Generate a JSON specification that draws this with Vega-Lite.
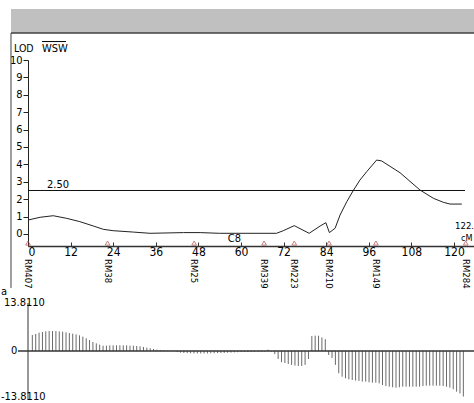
{
  "$schema": "https://vega.github.io/schema/vega-lite/v6.json",
  "width": 446,
  "height": 246,
  "autosize": {"type": "none"},
  "padding": {"left": 28, "top": 0, "right": 0, "bottom": 157},
  "background": "white",
  "config": {
    "view": {"stroke": null},
    "font": "Liberation Sans Narrow, DejaVu Sans Condensed, Liberation Sans, sans-serif",
    "text": {"font": "Liberation Sans Narrow, DejaVu Sans Condensed, Liberation Sans, sans-serif", "color": "#000000"}
  },
  "resolve": {"scale": {"y": "independent"}, "axis": {"y": "independent", "x": "independent"}},
  "layer": [
    {
      "data": {"values": [{}]},
      "mark": {"type": "rect", "color": "#c0c0c0"},
      "encoding": {
        "x": {"datum": -4.79, "type": "quantitative", "scale": {"domain": [0, 125.63], "nice": false, "zero": false}, "axis": null},
        "x2": {"datum": 125.63},
        "y": {"datum": 12.93, "type": "quantitative", "scale": {"domain": [-0.69, 10], "range": [246, 60], "nice": false, "zero": false}, "axis": null},
        "y2": {"datum": 11.55}
      }
    },
    {
      "data": {"values": [{}]},
      "mark": {"type": "rule", "color": "#404040", "strokeWidth": 1.5},
      "encoding": {
        "x": {"datum": -4.79, "type": "quantitative", "scale": {"domain": [0, 125.63], "nice": false, "zero": false}, "axis": null},
        "x2": {"datum": 125.63},
        "y": {"datum": 11.55, "type": "quantitative", "scale": {"domain": [-0.69, 10], "range": [246, 60], "nice": false, "zero": false}, "axis": null}
      }
    },
    {
      "data": {"values": [{}]},
      "mark": {"type": "rule", "color": "#404040", "strokeWidth": 1},
      "encoding": {
        "x": {"datum": -4.79, "type": "quantitative", "scale": {"domain": [0, 125.63], "nice": false, "zero": false}, "axis": null},
        "y": {"datum": 11.55, "type": "quantitative", "scale": {"domain": [-0.69, 10], "range": [246, 60], "nice": false, "zero": false}, "axis": null},
        "y2": {"datum": -3.1}
      }
    },
    {
      "data": {"values": [{}]},
      "mark": {"type": "rule", "color": "#111111", "strokeWidth": 1},
      "encoding": {
        "x": {"datum": 0, "type": "quantitative", "scale": {"domain": [0, 125.63], "nice": false, "zero": false}, "axis": null},
        "x2": {"datum": 123.1},
        "y": {"datum": 2.5, "type": "quantitative", "scale": {"domain": [-0.69, 10], "range": [246, 60], "nice": false, "zero": false}, "axis": null}
      }
    },
    {
      "data": {"values": [
        {"x": 0, "y": 0.8}, {"x": 3.4, "y": 0.96}, {"x": 7.1, "y": 1.05}, {"x": 10.9, "y": 0.9},
        {"x": 14.6, "y": 0.71}, {"x": 18.4, "y": 0.46}, {"x": 21.2, "y": 0.27}, {"x": 24, "y": 0.19},
        {"x": 29.7, "y": 0.11}, {"x": 34.4, "y": 0.04}, {"x": 43.8, "y": 0.08}, {"x": 48.5, "y": 0.08},
        {"x": 54, "y": 0.04}, {"x": 70, "y": 0.04}, {"x": 71.9, "y": 0.19}, {"x": 75, "y": 0.48},
        {"x": 79.2, "y": 0.04}, {"x": 82.3, "y": 0.46}, {"x": 83.9, "y": 0.65}, {"x": 84.9, "y": 0.08},
        {"x": 86.5, "y": 0.33}, {"x": 87.9, "y": 1.09}, {"x": 89.8, "y": 1.86}, {"x": 91.6, "y": 2.49},
        {"x": 93.5, "y": 3.1}, {"x": 95.4, "y": 3.58}, {"x": 98.2, "y": 4.25}, {"x": 99.6, "y": 4.2},
        {"x": 104.8, "y": 3.52}, {"x": 110.4, "y": 2.53}, {"x": 114.2, "y": 2.05}, {"x": 117, "y": 1.82},
        {"x": 118.9, "y": 1.72}, {"x": 122.2, "y": 1.72}
      ]},
      "mark": {"type": "line", "color": "#222222", "strokeWidth": 1},
      "encoding": {
        "x": {
          "field": "x", "type": "quantitative",
          "scale": {"domain": [0, 125.63], "nice": false, "zero": false},
          "axis": {
            "title": null, "grid": false,
            "values": [0, 12, 24, 36, 48, 60, 72, 84, 96, 108, 120],
            "labelFont": "Liberation Sans Narrow, DejaVu Sans Condensed, Liberation Sans, sans-serif",
            "labelFontSize": 12, "labelColor": "#000000",
            "domainColor": "#333333", "domainWidth": 1.5,
            "tickColor": "#333333", "tickSize": -4, "labelPadding": 4
          }
        },
        "y": {
          "field": "y", "type": "quantitative",
          "scale": {"domain": [-0.69, 10], "range": [246, 60], "nice": false, "zero": false},
          "axis": {
            "title": null, "grid": false,
            "values": [0, 1, 2, 3, 4, 5, 6, 7, 8, 9, 10],
            "labelFont": "Liberation Sans Narrow, DejaVu Sans Condensed, Liberation Sans, sans-serif",
            "labelFontSize": 11, "labelColor": "#000000",
            "domainColor": "#222222", "tickColor": "#222222", "tickSize": 5, "labelPadding": 1
          }
        }
      }
    },
    {
      "data": {"values": [
        {"x": 0, "name": "RM407"}, {"x": 22.4, "name": "RM38"}, {"x": 46.8, "name": "RM25"},
        {"x": 66.5, "name": "RM339"}, {"x": 75, "name": "RM223"}, {"x": 84.8, "name": "RM210"},
        {"x": 98, "name": "RM149"}, {"x": 123.3, "name": "RM284"}
      ]},
      "mark": {"type": "point", "shape": "triangle-up", "filled": false, "stroke": "#b04848", "size": 22, "strokeWidth": 1},
      "encoding": {
        "x": {"field": "x", "type": "quantitative", "scale": {"domain": [0, 125.63], "nice": false, "zero": false}, "axis": null},
        "y": {"datum": -0.52, "type": "quantitative", "scale": {"domain": [-0.69, 10], "range": [246, 60], "nice": false, "zero": false}, "axis": null}
      }
    },
    {
      "data": {"values": [
        {"x": 0, "name": "RM407"}, {"x": 22.4, "name": "RM38"}, {"x": 46.8, "name": "RM25"},
        {"x": 66.5, "name": "RM339"}, {"x": 75, "name": "RM223"}, {"x": 84.8, "name": "RM210"},
        {"x": 98, "name": "RM149"}, {"x": 123.3, "name": "RM284"}
      ]},
      "mark": {"type": "text", "angle": 90, "align": "left", "baseline": "middle", "fontSize": 9.5},
      "encoding": {
        "x": {"field": "x", "type": "quantitative", "scale": {"domain": [0, 125.63], "nice": false, "zero": false}, "axis": null},
        "y": {"datum": -1.44, "type": "quantitative", "scale": {"domain": [-0.69, 10], "range": [246, 60], "nice": false, "zero": false}, "axis": null},
        "text": {"field": "name"}
      }
    },
    {
      "data": {"values": [{"t": "2.50"}]},
      "mark": {"type": "text", "align": "left", "baseline": "alphabetic", "fontSize": 11},
      "encoding": {
        "x": {"datum": 5.35, "type": "quantitative", "scale": {"domain": [0, 125.63], "nice": false, "zero": false}, "axis": null},
        "y": {"datum": 2.64, "type": "quantitative", "scale": {"domain": [-0.69, 10], "range": [246, 60], "nice": false, "zero": false}, "axis": null},
        "text": {"field": "t"}
      }
    },
    {
      "data": {"values": [{"t": "LOD"}]},
      "mark": {"type": "text", "align": "left", "baseline": "alphabetic", "fontSize": 10.5},
      "encoding": {
        "x": {"datum": -3.94, "type": "quantitative", "scale": {"domain": [0, 125.63], "nice": false, "zero": false}, "axis": null},
        "y": {"datum": 10.46, "type": "quantitative", "scale": {"domain": [-0.69, 10], "range": [246, 60], "nice": false, "zero": false}, "axis": null},
        "text": {"field": "t"}
      }
    },
    {
      "data": {"values": [{"t": "WSW"}]},
      "mark": {"type": "text", "align": "left", "baseline": "alphabetic", "fontSize": 11},
      "encoding": {
        "x": {"datum": 3.94, "type": "quantitative", "scale": {"domain": [0, 125.63], "nice": false, "zero": false}, "axis": null},
        "y": {"datum": 10.46, "type": "quantitative", "scale": {"domain": [-0.69, 10], "range": [246, 60], "nice": false, "zero": false}, "axis": null},
        "text": {"field": "t"}
      }
    },
    {
      "data": {"values": [{}]},
      "mark": {"type": "rule", "color": "#000000", "strokeWidth": 1},
      "encoding": {
        "x": {"datum": 3.94, "type": "quantitative", "scale": {"domain": [0, 125.63], "nice": false, "zero": false}, "axis": null},
        "x2": {"datum": 10.7},
        "y": {"datum": 11.06, "type": "quantitative", "scale": {"domain": [-0.69, 10], "range": [246, 60], "nice": false, "zero": false}, "axis": null}
      }
    },
    {
      "data": {"values": [{"t": "C8"}]},
      "mark": {"type": "text", "align": "left", "baseline": "alphabetic", "fontSize": 11},
      "encoding": {
        "x": {"datum": 56.3, "type": "quantitative", "scale": {"domain": [0, 125.63], "nice": false, "zero": false}, "axis": null},
        "y": {"datum": -0.46, "type": "quantitative", "scale": {"domain": [-0.69, 10], "range": [246, 60], "nice": false, "zero": false}, "axis": null},
        "text": {"field": "t"}
      }
    },
    {
      "data": {"values": [{"t": "122."}]},
      "mark": {"type": "text", "align": "left", "baseline": "alphabetic", "fontSize": 9.5},
      "encoding": {
        "x": {"datum": 120.28, "type": "quantitative", "scale": {"domain": [0, 125.63], "nice": false, "zero": false}, "axis": null},
        "y": {"datum": 0.29, "type": "quantitative", "scale": {"domain": [-0.69, 10], "range": [246, 60], "nice": false, "zero": false}, "axis": null},
        "text": {"field": "t"}
      }
    },
    {
      "data": {"values": [{"t": "cM"}]},
      "mark": {"type": "text", "align": "left", "baseline": "alphabetic", "fontSize": 9},
      "encoding": {
        "x": {"datum": 121.97, "type": "quantitative", "scale": {"domain": [0, 125.63], "nice": false, "zero": false}, "axis": null},
        "y": {"datum": -0.4, "type": "quantitative", "scale": {"domain": [-0.69, 10], "range": [246, 60], "nice": false, "zero": false}, "axis": null},
        "text": {"field": "t"}
      }
    },
    {
      "data": {"values": [
        {"x": 1.22, "y": 4.6}, {"x": 2.17, "y": 4.9}, {"x": 3.12, "y": 5.27}, {"x": 4.07, "y": 5.47},
        {"x": 5.01, "y": 5.66}, {"x": 5.96, "y": 5.75}, {"x": 6.91, "y": 5.75}, {"x": 7.86, "y": 5.75},
        {"x": 8.81, "y": 5.66}, {"x": 9.76, "y": 5.56}, {"x": 10.71, "y": 5.37}, {"x": 11.65, "y": 5.18},
        {"x": 12.6, "y": 4.99}, {"x": 13.55, "y": 4.79}, {"x": 14.5, "y": 4.51}, {"x": 15.45, "y": 4.12},
        {"x": 16.4, "y": 3.64}, {"x": 17.34, "y": 3.16}, {"x": 18.29, "y": 2.59}, {"x": 19.24, "y": 2.2},
        {"x": 20.19, "y": 1.82}, {"x": 21.14, "y": 1.53}, {"x": 22.09, "y": 1.53}, {"x": 23.04, "y": 1.63},
        {"x": 23.98, "y": 1.63}, {"x": 24.93, "y": 1.63}, {"x": 25.88, "y": 1.63}, {"x": 26.83, "y": 1.63},
        {"x": 27.78, "y": 1.63}, {"x": 28.73, "y": 1.53}, {"x": 29.68, "y": 1.53}, {"x": 30.62, "y": 1.44},
        {"x": 31.57, "y": 1.34}, {"x": 32.52, "y": 1.15}, {"x": 33.47, "y": 0.96}, {"x": 34.42, "y": 0.77},
        {"x": 35.37, "y": 0.58}, {"x": 36.31, "y": 0.38}, {"x": 37.26, "y": 0.29}, {"x": 38.21, "y": 0.19},
        {"x": 39.16, "y": 0.1}, {"x": 40.11, "y": 0.05}, {"x": 41.06, "y": -0.1}, {"x": 42.01, "y": -0.3},
        {"x": 42.95, "y": -0.45}, {"x": 43.9, "y": -0.55}, {"x": 44.85, "y": -0.6}, {"x": 45.8, "y": -0.65},
        {"x": 46.75, "y": -0.7}, {"x": 47.7, "y": -0.7}, {"x": 48.65, "y": -0.7}, {"x": 49.59, "y": -0.7},
        {"x": 50.54, "y": -0.7}, {"x": 51.49, "y": -0.65}, {"x": 52.44, "y": -0.65}, {"x": 53.39, "y": -0.6},
        {"x": 54.34, "y": -0.6}, {"x": 55.28, "y": -0.55}, {"x": 56.23, "y": -0.5}, {"x": 57.18, "y": -0.45},
        {"x": 58.13, "y": -0.4}, {"x": 59.08, "y": -0.35}, {"x": 60.03, "y": -0.3}, {"x": 60.98, "y": -0.3},
        {"x": 61.92, "y": -0.3}, {"x": 62.87, "y": -0.25}, {"x": 63.82, "y": -0.25}, {"x": 64.77, "y": -0.2},
        {"x": 65.72, "y": -0.2}, {"x": 66.67, "y": -0.15}, {"x": 67.62, "y": 0.4}, {"x": 68.56, "y": -0.15},
        {"x": 69.51, "y": -0.9}, {"x": 70.46, "y": -2.3}, {"x": 71.41, "y": -3.2}, {"x": 72.36, "y": -3.45},
        {"x": 73.31, "y": -3.75}, {"x": 74.25, "y": -4.0}, {"x": 75.2, "y": -4.2}, {"x": 76.15, "y": -4.3},
        {"x": 77.1, "y": -4.3}, {"x": 78.05, "y": -4.0}, {"x": 79.0, "y": -2.3}, {"x": 79.95, "y": 4.3},
        {"x": 80.89, "y": 4.4}, {"x": 81.84, "y": 4.4}, {"x": 82.79, "y": 3.9}, {"x": 83.74, "y": 3.4},
        {"x": 84.69, "y": -1.15}, {"x": 85.64, "y": -2.0}, {"x": 86.59, "y": -4.0}, {"x": 87.53, "y": -6.4},
        {"x": 88.48, "y": -7.4}, {"x": 89.43, "y": -7.85}, {"x": 90.38, "y": -8.15}, {"x": 91.33, "y": -8.35},
        {"x": 92.28, "y": -8.5}, {"x": 93.22, "y": -8.6}, {"x": 94.17, "y": -8.8}, {"x": 95.12, "y": -8.8},
        {"x": 96.07, "y": -9.0}, {"x": 97.02, "y": -9.1}, {"x": 97.97, "y": -9.1}, {"x": 98.92, "y": -9.3},
        {"x": 99.86, "y": -9.8}, {"x": 100.81, "y": -10.07}, {"x": 101.76, "y": -10.26}, {"x": 102.71, "y": -10.45},
        {"x": 103.66, "y": -10.55}, {"x": 104.61, "y": -10.45}, {"x": 105.56, "y": -10.26}, {"x": 106.5, "y": -10.26},
        {"x": 107.45, "y": -10.26}, {"x": 108.4, "y": -10.26}, {"x": 109.35, "y": -10.26}, {"x": 110.3, "y": -10.26},
        {"x": 111.25, "y": -10.07}, {"x": 112.19, "y": -9.97}, {"x": 113.14, "y": -9.97}, {"x": 114.09, "y": -9.97},
        {"x": 115.04, "y": -9.97}, {"x": 115.99, "y": -9.97}, {"x": 116.94, "y": -10.07}, {"x": 117.89, "y": -10.26},
        {"x": 118.83, "y": -10.55}, {"x": 119.78, "y": -11.0}, {"x": 120.73, "y": -11.7}, {"x": 121.68, "y": -12.2},
        {"x": 122.63, "y": -13.1}
      ]},
      "mark": {"type": "rule", "color": "#6a6a6a", "strokeWidth": 1},
      "encoding": {
        "x": {"field": "x", "type": "quantitative", "scale": {"domain": [0, 125.63], "nice": false, "zero": false}, "axis": null},
        "y": {"field": "y", "type": "quantitative", "scale": {"domain": [-13.811, 13.811], "range": [399, 303], "nice": false, "zero": false}, "axis": null},
        "y2": {"datum": 0}
      }
    },
    {
      "data": {"values": [{}]},
      "mark": {"type": "rule", "color": "#333333", "strokeWidth": 1.5},
      "encoding": {
        "x": {"datum": -2.82, "type": "quantitative", "scale": {"domain": [0, 125.63], "nice": false, "zero": false}, "axis": null},
        "x2": {"datum": 125.63},
        "y": {"datum": 0, "type": "quantitative", "scale": {"domain": [-13.811, 13.811], "range": [399, 303], "nice": false, "zero": false}, "axis": null}
      }
    },
    {
      "data": {"values": [{}]},
      "mark": {"type": "rule", "color": "#333333", "strokeWidth": 1},
      "encoding": {
        "x": {"datum": 0, "type": "quantitative", "scale": {"domain": [0, 125.63], "nice": false, "zero": false}, "axis": null},
        "y": {"datum": 13.811, "type": "quantitative", "scale": {"domain": [-13.811, 13.811], "range": [399, 303], "nice": false, "zero": false}, "axis": null},
        "y2": {"datum": -14.1}
      }
    },
    {
      "data": {"values": [{"t": "a"}]},
      "mark": {"type": "text", "align": "left", "baseline": "alphabetic", "fontSize": 11},
      "encoding": {
        "x": {"datum": -7.61, "type": "quantitative", "scale": {"domain": [0, 125.63], "nice": false, "zero": false}, "axis": null},
        "y": {"datum": 16.1, "type": "quantitative", "scale": {"domain": [-13.811, 13.811], "range": [399, 303], "nice": false, "zero": false}, "axis": null},
        "text": {"field": "t"}
      }
    },
    {
      "data": {"values": [{"t": "13.8110"}]},
      "mark": {"type": "text", "align": "left", "baseline": "alphabetic", "fontSize": 11},
      "encoding": {
        "x": {"datum": -6.76, "type": "quantitative", "scale": {"domain": [0, 125.63], "nice": false, "zero": false}, "axis": null},
        "y": {"datum": 12.95, "type": "quantitative", "scale": {"domain": [-13.811, 13.811], "range": [399, 303], "nice": false, "zero": false}, "axis": null},
        "text": {"field": "t"}
      }
    },
    {
      "data": {"values": [{"t": "0"}]},
      "mark": {"type": "text", "align": "left", "baseline": "middle", "fontSize": 11},
      "encoding": {
        "x": {"datum": -4.79, "type": "quantitative", "scale": {"domain": [0, 125.63], "nice": false, "zero": false}, "axis": null},
        "y": {"datum": 0, "type": "quantitative", "scale": {"domain": [-13.811, 13.811], "range": [399, 303], "nice": false, "zero": false}, "axis": null},
        "text": {"field": "t"}
      }
    },
    {
      "data": {"values": [{"t": "-13.8110"}]},
      "mark": {"type": "text", "align": "left", "baseline": "alphabetic", "fontSize": 11},
      "encoding": {
        "x": {"datum": -7.61, "type": "quantitative", "scale": {"domain": [0, 125.63], "nice": false, "zero": false}, "axis": null},
        "y": {"datum": -14.1, "type": "quantitative", "scale": {"domain": [-13.811, 13.811], "range": [399, 303], "nice": false, "zero": false}, "axis": null},
        "text": {"field": "t"}
      }
    }
  ]
}
